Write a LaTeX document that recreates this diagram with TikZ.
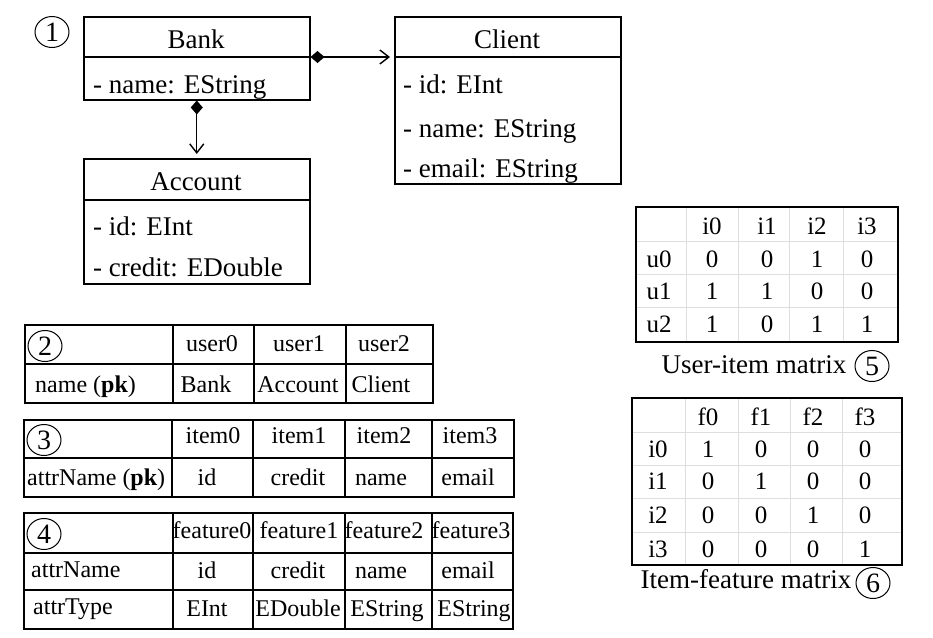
\documentclass[tikz,border=0pt]{standalone}
\usepackage{fontspec}
\setmainfont{Liberation Serif}
\usetikzlibrary{arrows.meta,shapes.geometric}
\newcommand\umlfont{\fontsize{27}{32}\selectfont}
\newcommand\tabfont{\fontsize{24}{28}\selectfont}
\newcommand\matfont{\fontsize{25}{30}\selectfont}
\newcommand\digfont{\fontsize{28}{32}\selectfont}
\begin{document}
\begin{tikzpicture}[x=1pt,y=-1pt,
  umlbox/.style={draw, line width=1.5pt, inner sep=0pt, anchor=north west},
  umltxt/.style={font=\umlfont, inner sep=0pt, anchor=base},
  umlattr/.style={font=\umlfont, inner sep=0pt, anchor=base west},
  tabline/.style={line width=1.7pt},
  tabtxt/.style={font=\tabfont, inner sep=0pt, anchor=base},
  mattxt/.style={font=\matfont, inner sep=0pt, anchor=base},
  capt/.style={font=\umlfont, inner sep=0pt, anchor=base},
  faint/.style={line width=0.8pt, draw=black!13},
  numcirc/.style={draw, ellipse, line width=1pt, inner sep=0pt, minimum width=34pt, minimum height=31pt, font=\digfont},
  comp/.style={line width=1.4pt, {Diamond[length=14pt,width=12pt]}-{Straight Barb[length=9pt,width=14pt,line width=1.4pt]}, shorten >=4pt}
]
\useasboundingbox (0,0) rectangle (933,637);

% ---------- UML ----------
\node[numcirc] (c1) at (52,32) {1};

\node[umlbox, minimum width=226pt, minimum height=83pt] (bank) at (83,16) {};
\draw[line width=1.5pt] (bank.west |- 0,57) -- (bank.east |- 0,57);
\node[umltxt] (bankT) at (196,48) {Bank};
\node[umlattr] (bankA1) at (93,93) {- name: EString};

\node[umlbox, minimum width=226pt, minimum height=167pt] (client) at (394,16) {};
\draw[line width=1.5pt] (client.west |- 0,57) -- (client.east |- 0,57);
\node[umltxt] (clientT) at (507,48) {Client};
\node[umlattr] (clientA1) at (403,93) {- id: EInt};
\node[umlattr] (clientA2) at (403,137) {- name: EString};
\node[umlattr] (clientA3) at (403,177) {- email: EString};

\node[umlbox, minimum width=226pt, minimum height=125pt] (account) at (83,158) {};
\draw[line width=1.5pt] (account.west |- 0,200) -- (account.east |- 0,200);
\node[umltxt] (accountT) at (196,190) {Account};
\node[umlattr] (accountA1) at (93,235) {- id: EInt};
\node[umlattr] (accountA2) at (93,276) {- credit: EDouble};

\draw[comp] (bank.east |- 0,57) -- (client.west |- 0,57);
\draw[comp] (bank.south) -- (account.north);

% ---------- Table 2 ----------
\draw[tabline] (25,325) rectangle (433,403);
\draw[tabline] (25,364) -- (433,364);
\foreach \x in {173,254,346} \draw[tabline] (\x,325) -- (\x,403);
\node[numcirc] (c2) at (45,346) {2};
\node[tabtxt] (t2a) at (212,351) {user0};
\node[tabtxt] (t2b) at (299,351) {user1};
\node[tabtxt] (t2c) at (384,351) {user2};
\node[tabtxt, anchor=base west] (t2k) at (35,392) {name (\textbf{pk})};
\node[tabtxt] (t2d) at (206,392) {Bank};
\node[tabtxt] (t2e) at (298,392) {Account};
\node[tabtxt] (t2f) at (381,392) {Client};

% ---------- Table 3 ----------
\draw[tabline] (24,420) rectangle (514,497);
\draw[tabline] (24,458) -- (514,458);
\foreach \x in {172,253,345,432} \draw[tabline] (\x,420) -- (\x,497);
\node[numcirc] (c3) at (44,440) {3};
\node[tabtxt] (t3a) at (213,443) {item0};
\node[tabtxt] (t3b) at (299,443) {item1};
\node[tabtxt] (t3c) at (384,443) {item2};
\node[tabtxt] (t3d) at (470,443) {item3};
\node[tabtxt, anchor=base west] (t3k) at (27,485) {attrName (\textbf{pk})};
\node[tabtxt] (t3e) at (207,485) {id};
\node[tabtxt] (t3f) at (298,485) {credit};
\node[tabtxt] (t3g) at (381,485) {name};
\node[tabtxt] (t3h) at (468,485) {email};

% ---------- Table 4 ----------
\draw[tabline] (24,513) rectangle (513,629);
\draw[tabline] (24,553) -- (513,553);
\draw[tabline] (24,590) -- (513,590);
\foreach \x in {173,253,345,432} \draw[tabline] (\x,513) -- (\x,629);
\node[numcirc] (c4) at (44,534) {4};
\node[tabtxt] (t4a) at (212,538) {feature0};
\node[tabtxt] (t4b) at (299,538) {feature1};
\node[tabtxt] (t4c) at (384,538) {feature2};
\node[tabtxt] (t4d) at (471,538) {feature3};
\node[tabtxt, anchor=base west] (t4k1) at (31,577) {attrName};
\node[tabtxt] (t4e) at (207,578) {id};
\node[tabtxt] (t4f) at (298,578) {credit};
\node[tabtxt] (t4g) at (381,578) {name};
\node[tabtxt] (t4h) at (468,578) {email};
\node[tabtxt, anchor=base west] (t4k2) at (33,614) {attrType};
\node[tabtxt] (t4i) at (207,616) {EInt};
\node[tabtxt] (t4j) at (298,616) {EDouble};
\node[tabtxt] (t4l) at (387,616) {EString};
\node[tabtxt] (t4m) at (474,616) {EString};

% ---------- Matrix 5 ----------
\foreach \y in {241,274,307} \draw[faint] (636,\y) -- (898,\y);
\foreach \x in {686,738,789,843} \draw[faint] (\x,207) -- (\x,342);
\draw[line width=1.6pt] (636,207) rectangle (898,342);
\foreach \c/\x in {i0/712,i1/767,i2/817,i3/867}
  \node[mattxt] (m5h\c) at (\x,234) {\c};
\foreach \r/\y/\va/\vb/\vc/\vd in {u0/267/0/0/1/0, u1/299/1/1/0/0, u2/332/1/0/1/1}{
  \node[mattxt] (m5\r) at (659,\y) {\r};
  \node[mattxt] (m5\r a) at (712,\y) {\va};
  \node[mattxt] (m5\r b) at (767,\y) {\vb};
  \node[mattxt] (m5\r c) at (817,\y) {\vc};
  \node[mattxt] (m5\r d) at (867,\y) {\vd};
}
\node[capt] (cap5) at (754,373) {User-item matrix};
\node[numcirc] (c5) at (872,366) {5};

% ---------- Matrix 6 ----------
\foreach \y in {432,465,498,532} \draw[faint] (632,\y) -- (902,\y);
\foreach \x in {685,738,790,842} \draw[faint] (\x,398) -- (\x,565);
\draw[line width=1.6pt] (632,398) rectangle (902,565);
\foreach \c/\x in {f0/708,f1/761,f2/813,f3/865}
  \node[mattxt] (m6h\c) at (\x,425) {\c};
\foreach \r/\y/\va/\vb/\vc/\vd in {i0/457/1/0/0/0, i1/489/0/1/0/0, i2/523/0/0/1/0, i3/557/0/0/0/1}{
  \node[mattxt] (m6\r) at (658,\y) {\r};
  \node[mattxt] (m6\r a) at (708,\y) {\va};
  \node[mattxt] (m6\r b) at (761,\y) {\vb};
  \node[mattxt] (m6\r c) at (813,\y) {\vc};
  \node[mattxt] (m6\r d) at (865,\y) {\vd};
}
\node[capt] (cap6) at (746,588) {Item-feature matrix};
\node[numcirc] (c6) at (873,583) {6};
\end{tikzpicture}
\end{document}
